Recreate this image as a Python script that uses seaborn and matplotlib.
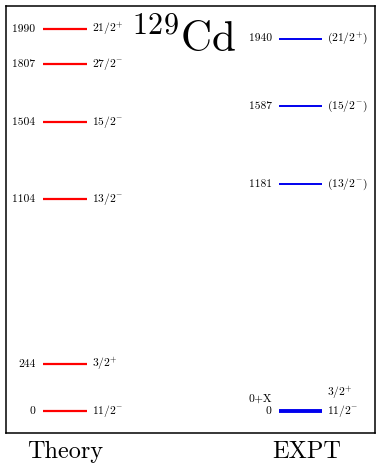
import matplotlib
matplotlib.use("Agg")
import matplotlib.pyplot as plt
import seaborn as sns
import pandas as pd

# level energies (keV) and spins
theory_energy = [0, 244, 1104, 1504, 1807, 1990]
theory_spin = ["11/2^{-}", "3/2^{+}", "13/2^{-}", "15/2^{-}", "27/2^{-}", "21/2^{+}"]
expt_energy = [0, 1181, 1587, 1940]
expt_spin = ["11/2^{-}", "(13/2^{-})", "(15/2^{-})", "(21/2^{+})"]
expt_label = ["0", "1181", "1587", "1940"]

sns.set_style("white")
plt.rcParams["font.family"] = "serif"
plt.rcParams["font.serif"] = ["cmr10", "DejaVu Serif"]
plt.rcParams["mathtext.fontset"] = "cm"
plt.rcParams["axes.unicode_minus"] = False
plt.rcParams["text.color"] = "black"

fig = plt.figure(figsize=(3.82, 4.75), dpi=100)
ax = fig.add_axes([6 / 382, 1 - 433 / 475, 369 / 382, 427 / 475])

th = pd.DataFrame({"E": theory_energy, "spin": theory_spin})
ex = pd.DataFrame({"E": expt_energy, "spin": expt_spin, "lab": expt_label})

fs = 8.3
ax.hlines(th["E"], 0.10, 0.22, color="#ff0000", lw=1.6)
for e, s in zip(th["E"], th["spin"]):
    ax.text(0.08, e, str(e), ha="right", va="center", fontsize=fs)
    ax.text(0.233, e, f"${s}$", ha="left", va="center", fontsize=fs)

lw = [2.8 if e == 0 else 1.4 for e in ex["E"]]
ax.hlines(ex["E"], 0.74, 0.857, color="#0000ee", lw=lw)
for e, s, l in zip(ex["E"], ex["spin"], ex["lab"]):
    ax.text(0.72, e, l, ha="right", va="center", fontsize=fs)
    ax.text(0.87, e, f"${s}$", ha="left", va="center", fontsize=fs)
ax.text(0.72, 62, "0+X", ha="right", va="center", fontsize=fs)
ax.text(0.87, 48, "$3/2^{+}$", ha="left", va="bottom", fontsize=fs)

ax.text(0.34, 1935, "$^{129}$Cd", ha="left", va="center", fontsize=31)

ax.set_xlim(0, 1)
ax.set_ylim(-115, 2110)
ax.set_xticks([])
ax.set_yticks([])
for sp in ax.spines.values():
    sp.set_color("black")
    sp.set_linewidth(1.1)

ax.text(0.16, -0.045, "Theory", transform=ax.transAxes, ha="center", va="center", fontsize=17.5)
ax.text(0.815, -0.045, "EXPT", transform=ax.transAxes, ha="center", va="center", fontsize=17.5)

fig.savefig("out.png", dpi=100)
